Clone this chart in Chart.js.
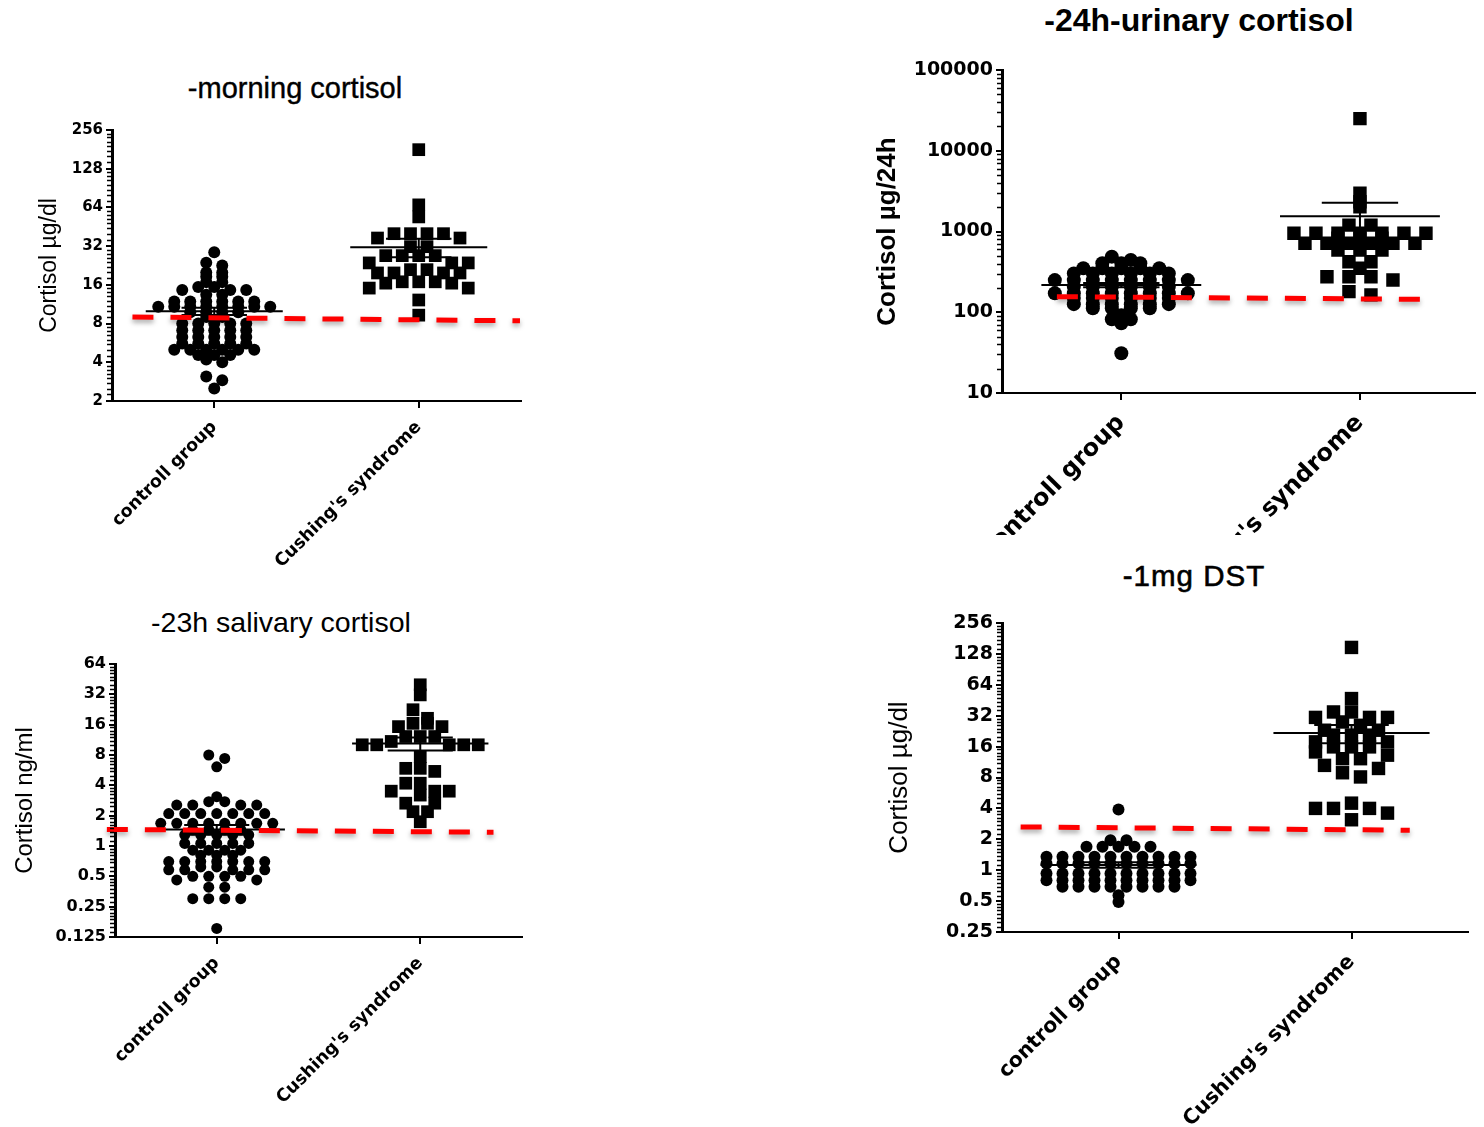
<!DOCTYPE html>
<html>
<head>
<meta charset="utf-8">
<title>Cortisol tests</title>
<script src="https://cdn.jsdelivr.net/npm/chart.js@4.4.1/dist/chart.umd.min.js"></script>
<style>
  body { margin: 0; background: #fff; }
  #page { position: relative; width: 1484px; height: 1127px; overflow: hidden; font-family: "Liberation Sans", Arial, sans-serif; color: #000; }
  .box { position: absolute; overflow: hidden; }
  .ttl { position: absolute; transform: translate(-50%, -50%); white-space: nowrap; line-height: 1; }
</style>
</head>
<body>
<div id="page">
  <div class="ttl" style="left:295px;top:88px;font-size:29px;-webkit-text-stroke:0.4px #000;">-morning cortisol</div>
  <div class="ttl" style="left:1199px;top:20px;font-size:32px;font-weight:bold;">-24h-urinary cortisol</div>
  <div class="ttl" style="left:281px;top:622px;font-size:28.5px;">-23h salivary cortisol</div>
  <div class="ttl" style="left:1194px;top:576px;font-size:29.5px;-webkit-text-stroke:0.6px #000;letter-spacing:1px;">-1mg DST</div>

  <div class="box" style="left:0;top:110px;width:540px;height:480px"><canvas id="morning" width="540" height="480"></canvas></div>
  <div class="box" style="left:860px;top:0;width:624px;height:535px"><canvas id="urinary" width="624" height="535"></canvas></div>
  <div class="box" style="left:0;top:600px;width:540px;height:527px"><canvas id="salivary" width="540" height="527"></canvas></div>
  <div class="box" style="left:860px;top:600px;width:624px;height:527px"><canvas id="dst" width="624" height="527"></canvas></div>
</div>
<script>
const groups = ['controll group', "Cushing's syndrome"];

// -morning cortisol, µg/dl
const morningTicks = [2, 4, 8, 16, 32, 64, 128, 256];
const morningControl = [28.7, 23.8, 22.6, 20, 20, 18.5, 18.5, 16.8, 16.8, 15.4, 15.4, 14.6, 14.6, 14.6, 13.4, 13.4,
  11.9, 11.9, 11.9, 11.9, 11.9, 11.9, 10.8, 10.8, 10.8, 10.8, 10.8, 10.8, 10.8, 10.8, 9.8, 9.8, 9.8, 9.8, 9.0, 9.0,
  8.0, 8.0, 8.0, 8.0, 8.0, 7.1, 7.1, 7.1, 7.1, 7.1, 6.3, 6.3, 6.3, 6.3, 6.3, 5.6, 5.6, 5.6, 5.6, 5.6,
  5.0, 5.0, 5.0, 5.0, 5.0, 5.0, 4.56, 4.56, 4.56, 4.2, 4.0, 3.1, 2.9, 2.5];
const morningCushing = [180, 67, 54, 40, 40, 40, 40, 37, 37, 31.7, 31.7, 27, 27, 27, 27, 23.7, 23.7, 23.7, 21, 21,
  19.8, 19.8, 19.8, 19.8, 16.9, 16.9, 16.9, 16.5, 16.5, 15.1, 15.1, 12.2, 9.3];
const morningCutoff = [9.0, 8.4];

// -24h-urinary cortisol, µg/24h
const urinaryTicks = [10, 100, 1000, 10000, 100000];
const urinaryControl = [488, 444, 404, 404, 404, 350, 350, 350, 350, 350, 302, 302, 302, 302, 302, 302,
  250, 250, 250, 250, 250, 250, 250, 250, 207, 207, 207, 207, 207, 207, 172, 172, 172, 172, 172, 172, 172, 172,
  150, 150, 150, 150, 150, 150, 126, 126, 126, 126, 126, 126, 112, 112, 112, 112, 92, 82, 82, 73, 31];
const urinaryCushing = [25000, 2970, 2340, 2030, 1200, 1200, 950, 950, 950, 950, 950, 950, 950, 824, 824, 824,
  715, 715, 715, 715, 715, 715, 590, 590, 590, 423, 423, 350, 275, 275, 275, 251, 180, 164];
const urinaryCutoff = [156, 144];

// -23h salivary cortisol, ng/ml
const salivaryTicks = [0.125, 0.25, 0.5, 1, 2, 4, 8, 16, 32, 64];
const salivaryControl = [8.0, 7.4, 6.1, 3.09, 2.75, 2.75, 2.55, 2.55, 2.55, 2.55, 2.1, 2.1, 2.1, 2.1, 2.1, 2.1, 2.1,
  1.68, 1.68, 1.68, 1.68, 1.68, 1.68, 1.68, 1.68, 1.45, 1.45, 1.45, 1.45, 1.29, 1.29, 1.29, 1.29, 1.29,
  1.06, 1.06, 1.06, 1.06, 1.06, 0.91, 0.91, 0.91, 0.91, 0.81, 0.81, 0.81, 0.70, 0.70, 0.70, 0.70, 0.70, 0.70, 0.70,
  0.62, 0.62, 0.58, 0.58, 0.58, 0.58, 0.58, 0.50, 0.50, 0.50, 0.50, 0.46, 0.46, 0.39, 0.39, 0.30, 0.30, 0.30, 0.30, 0.152];
const salivaryCushing = [39.8, 31.6, 22.5, 18.5, 16.5, 16.5, 15.3, 15.3, 12.2, 12.2, 12.2, 10.9, 10.1, 10.1, 10.1, 10.1, 10.1,
  7.7, 5.9, 5.9, 5.5, 4.2, 4.2, 3.5, 3.5, 3.5, 3.2, 2.66, 2.66, 2.19, 2.19, 1.74];
const salivaryCutoff = [1.46, 1.37];

// -1mg DST, µg/dl
const dstTicks = [0.25, 0.5, 1, 2, 4, 8, 16, 32, 64, 128, 256];
const dstControl = [3.9, 1.96, 1.96, 1.69, 1.69, 1.69, 1.69, 1.69,
  1.35, 1.35, 1.35, 1.35, 1.35, 1.35, 1.35, 1.35, 1.35, 1.35, 1.16, 1.16, 1.16, 1.16, 1.16, 1.16, 1.16, 1.16, 1.16, 1.16,
  0.93, 0.93, 0.93, 0.93, 0.93, 0.93, 0.93, 0.93, 0.93, 0.93, 0.80, 0.80, 0.80, 0.80, 0.80, 0.80, 0.80, 0.80, 0.80, 0.80,
  0.69, 0.69, 0.69, 0.69, 0.69, 0.69, 0.69, 0.69, 0.57, 0.49];
const dstCushing = [148, 47, 34.8, 34.8, 30.8, 30.8, 30.8, 27.8, 25.8, 23.1, 23.1, 20.7, 20.7, 20.7, 17.8, 17.8,
  15.9, 15.9, 15.9, 14.2, 13.2, 12.2, 12.2, 10.5, 9.8, 8.9, 8.1, 4.5, 4.0, 4.0, 4.0, 3.6, 3.1];
const dstCutoff = [2.64, 2.45];

// layout of each panel (pixels are canvas pixels)
// gapC/gapS = sideways step between marks of one row, binC/binS = height of a row band
const panels = [
  { id: 'morning', control: morningControl, cushing: morningCushing, cutoff: morningCutoff, ticks: morningTicks,
    yTitle: 'Cortisol µg/dl', base: 2, xMax: 1.5, pad: { top: 20, right: 19 }, yW: 112, xH: 189,
    titleFont: { size: 23 }, titlePad: 36, tickFont: 15, xFont: 17.5, xPad: 9, circle: 6, square: 9, cutX: [-0.40, 1.495],
    gapC: 16, gapS: 16.5, binC: 4, binS: 8 },
  { id: 'urinary', control: urinaryControl, cushing: urinaryCushing, cutoff: urinaryCutoff, ticks: urinaryTicks,
    yTitle: 'Cortisol µg/24h', base: 10, xMax: 1.48, pad: { top: 70, right: 0 }, yW: 142, xH: 142,
    titleFont: { size: 26, weight: 'bold' }, titlePad: 12, tickFont: 19, xFont: 24, xPad: 9, circle: 7, square: 9.5, cutX: [-0.27, 1.32],
    gapC: 19, gapS: 22, binC: 4, binS: 4 },
  { id: 'salivary', control: salivaryControl, cushing: salivaryCushing, cutoff: salivaryCutoff, ticks: salivaryTicks,
    yTitle: 'Cortisol ng/ml', base: 2, xMax: 1.5, pad: { top: 64, right: 18 }, yW: 115, xH: 190,
    titleFont: { size: 24 }, titlePad: 11, tickFont: 16, xFont: 17.5, xPad: 9, circle: 5.5, square: 9, cutX: [-0.54, 1.36],
    gapC: 16, gapS: 14.5, binC: 4, binS: 9 },
  { id: 'dst', control: dstControl, cushing: dstCushing, cutoff: dstCutoff, ticks: dstTicks,
    yTitle: 'Cortisol µg/dl', base: 2, xMax: 1.5, pad: { top: 23, right: 16 }, yW: 142, xH: 195,
    titleFont: { size: 26 }, titlePad: 24, tickFont: 19, xFont: 20.5, xPad: 11, circle: 6, square: 9.5, cutX: [-0.42, 1.25],
    gapC: 16, gapS: 18, binC: 4, binS: 10 }
];

function meanSem(vals) {
  const n = vals.length;
  const m = vals.reduce((a, b) => a + b, 0) / n;
  const sd = Math.sqrt(vals.reduce((a, v) => a + (v - m) * (v - m), 0) / (n - 1));
  return [m, sd / Math.sqrt(n)];
}

// minor ticks on the log y axis
const minorTicks = {
  id: 'minorTicks',
  afterDraw(chart, args, opts) {
    const y = chart.scales.y, ctx = chart.ctx, x0 = chart.chartArea.left - 1;
    const major = y.ticks.map(t => t.value);
    ctx.save();
    ctx.strokeStyle = '#000';
    ctx.lineWidth = 1.5;
    ctx.beginPath();
    for (let i = 0; i < major.length - 1; i++) {
      const lo = major[i];
      for (let k = 1; k <= (opts.base === 10 ? 8 : 7); k++) {
        const v = opts.base === 10 ? lo * (k + 1) : lo * (1 + k / 8);
        const py = Math.round(y.getPixelForValue(v)) + 0.5;
        ctx.moveTo(x0 - 4, py);
        ctx.lineTo(x0, py);
      }
    }
    ctx.stroke();
    ctx.restore();
  }
};

// soft shadow under the red cut-off line (dataset 0)
const dashShadow = {
  id: 'dashShadow',
  beforeDatasetDraw(chart, args) {
    if (args.index !== 0) return;
    const ctx = chart.ctx;
    ctx.save();
    ctx.shadowColor = 'rgba(0,0,0,0.35)';
    ctx.shadowBlur = 5;
    ctx.shadowOffsetY = 3;
  },
  afterDatasetDraw(chart, args) {
    if (args.index === 0) chart.ctx.restore();
  }
};

// column scatter: marks whose pixels fall in one band share a row, centred on the category
function rows(chart, values, cat, gap, band) {
  const xs = chart.scales.x, ys = chart.scales.y;
  const cx = xs.getPixelForValue(cat);
  const order = values.map((v, i) => i).sort((a, b) => values[b] - values[a]);
  const bins = [];
  let cur = null;
  order.forEach(i => {
    const py = ys.getPixelForValue(values[i]);
    if (!cur || py - cur.top > band) { cur = { top: py, idx: [] }; bins.push(cur); }
    cur.idx.push(i);
  });
  const out = new Array(values.length);
  bins.forEach(b => {
    const n = b.idx.length;
    const slots = Array.from({ length: n }, (_, j) => (j - (n - 1) / 2) * gap)
      .sort((a, c) => Math.abs(a) - Math.abs(c) || a - c);
    b.idx.forEach((i, k) => { out[i] = { x: xs.getValueForPixel(cx + slots[k]), y: values[i] }; });
  });
  return out;
}

panels.forEach(p => {
  const stats = [meanSem(p.control), meanSem(p.cushing)];
  const half = 0.335, cap = 0.16;
  const meanPts = [], semPts = [];
  stats.forEach(([m, s], g) => {
    meanPts.push({ x: g - half, y: m }, { x: g + half, y: m }, { x: g + 0.5, y: null });
    semPts.push({ x: g - cap, y: m + s }, { x: g + cap, y: m + s }, { x: g, y: null },
      { x: g, y: m + s }, { x: g, y: m - s }, { x: g, y: null },
      { x: g - cap, y: m - s }, { x: g + cap, y: m - s }, { x: g + 0.5, y: null });
  });

  const chart = new Chart(document.getElementById(p.id), {
    type: 'scatter',
    data: {
      datasets: [
        { data: [{ x: p.cutX[0], y: p.cutoff[0] }, { x: p.cutX[1], y: p.cutoff[1] }], showLine: true,
          borderColor: '#ff0000', borderWidth: 5, borderDash: [21, 17], borderCapStyle: 'butt', pointRadius: 0, clip: false },
        { data: meanPts, showLine: true, borderColor: '#000', borderWidth: 2, pointRadius: 0 },
        { data: semPts, showLine: true, borderColor: '#000', borderWidth: 2, pointRadius: 0 },
        { data: p.control.map(v => ({ x: 0, y: v })), pointStyle: 'circle', pointRadius: p.circle,
          backgroundColor: '#000', borderColor: '#000', borderWidth: 0 },
        { data: p.cushing.map(v => ({ x: 1, y: v })), pointStyle: 'rect', pointRadius: p.square,
          backgroundColor: '#000', borderColor: '#000', borderWidth: 0 }
      ]
    },
    options: {
      responsive: false,
      animation: false,
      events: [],
      layout: { padding: { top: p.pad.top, right: p.pad.right, bottom: 0, left: 0 } },
      plugins: { legend: { display: false }, tooltip: { enabled: false }, minorTicks: { base: p.base } },
      scales: {
        x: {
          type: 'linear', min: -0.5, max: p.xMax,
          afterBuildTicks: s => { s.ticks = groups.map((g, i) => ({ value: i })); },
          afterFit: s => { s.height = p.xH; },
          ticks: { autoSkip: false, minRotation: 45, maxRotation: 45, color: '#000', padding: p.xPad,
            font: { family: 'DejaVu Sans', size: p.xFont, weight: 'bold' },
            callback: (v, i) => groups[i] },
          grid: { drawOnChartArea: false, color: '#000', lineWidth: 2, tickLength: 7 },
          border: { color: '#000', width: 2 }
        },
        y: {
          type: 'logarithmic', min: p.ticks[0], max: p.ticks[p.ticks.length - 1],
          afterBuildTicks: s => { s.ticks = p.ticks.map(v => ({ value: v })); },
          afterFit: s => { s.width = p.yW; },
          ticks: { autoSkip: false, color: '#000', padding: 3,
            font: { family: 'DejaVu Sans', size: p.tickFont, weight: 'bold' },
            callback: v => String(v) },
          grid: { drawOnChartArea: false, color: '#000', lineWidth: 2, tickLength: 6 },
          border: { color: '#000', width: 3 },
          title: { display: true, text: p.yTitle, color: '#000',
            font: Object.assign({ family: 'Liberation Sans' }, p.titleFont),
            padding: { top: p.titlePad, bottom: 0 } }
        }
      }
    },
    plugins: [minorTicks, dashShadow]
  });

  chart.data.datasets[3].data = rows(chart, p.control, 0, p.gapC, p.binC);
  chart.data.datasets[4].data = rows(chart, p.cushing, 1, p.gapS, p.binS);
  chart.update('none');
});
</script>
</body>
</html>
